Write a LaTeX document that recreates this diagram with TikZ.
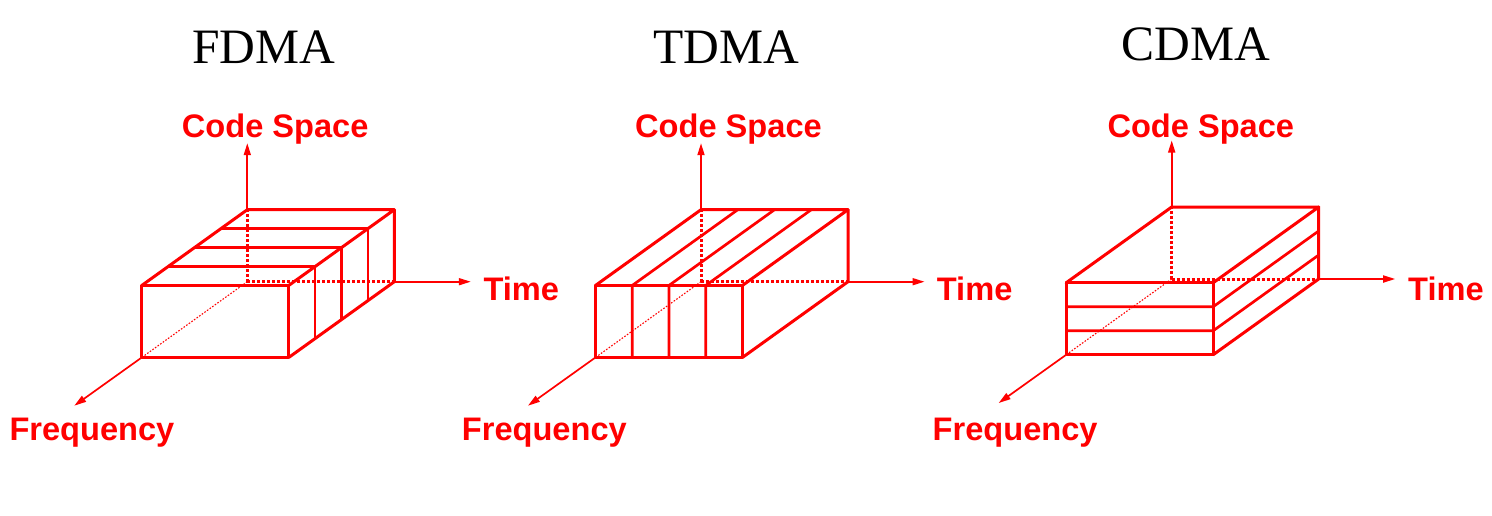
\documentclass[tikz,border=0pt]{standalone}
\usepackage{fontspec}
\setmainfont{Liberation Serif}
\newfontfamily\labfont{Liberation Sans}
\usetikzlibrary{arrows.meta,calc}
\definecolor{rd}{RGB}{255,0,0}
\tikzset{
  edge/.style={draw=rd, line width=3pt, line join=round, line cap=round},
  divline/.style={draw=rd, line width=2.7pt},
  axis/.style={draw=rd, line width=1.7pt, -{Triangle[length=12pt,width=7pt]}},
  hidden/.style={draw=rd, line width=3pt, dash pattern=on 3pt off 2pt},
  hiddenthin/.style={draw=rd, line width=1.1pt, dash pattern=on 1.6pt off 1.6pt},
  title/.style={font=\fontsize{49.5}{55}\selectfont, text=black, inner sep=0pt, anchor=base},
  lab/.style={font=\labfont\bfseries\fontsize{32.6}{36}\selectfont, text=rd, inner sep=0pt, anchor=base west},
}
\newcommand\mkbox[3]{%
  \coordinate (#1O) at (#2,#3);
  \coordinate (#1Ob) at ($(#1O)+(147,0)$);
  \coordinate (#1Ot) at ($(#1O)+(0,-72)$);
  \coordinate (#1Obt) at ($(#1O)+(147,-72)$);
  \coordinate (#1F) at ($(#1O)+(-105.6,75.8)$);
  \coordinate (#1Fb) at ($(#1F)+(147,0)$);
  \coordinate (#1Ft) at ($(#1F)+(0,-72)$);
  \coordinate (#1Fbt) at ($(#1F)+(147,-72)$);
  \coordinate (#1code) at ($(#1O)+(0,-138.5)$);
  \coordinate (#1time) at ($(#1O)+(223.5,0)$);
  \coordinate (#1freq) at ($(#1O)+(-173,124)$);
  \draw[hidden] (#1O) -- (#1Ot);
  \draw[hidden] (#1O) -- (#1Ob);
  \draw[hiddenthin] (#1O) -- (#1F);
  \draw[axis] (#1Ot) -- (#1code);
  \draw[axis] (#1Ob) -- (#1time);
  \draw[axis] (#1F) -- (#1freq);
  \draw[edge] (#1F) -- (#1Fb) -- (#1Fbt) -- (#1Ft) -- cycle;
  \draw[edge] (#1Ft) -- (#1Ot) -- (#1Obt) -- (#1Fbt);
  \draw[edge] (#1Obt) -- (#1Ob) -- (#1Fb);
}
\begin{document}
\begin{tikzpicture}[x=1pt, y=-1pt]
\useasboundingbox (0,0) rectangle (1492,515);

% titles
\node[title] (tf) at (263.8,63.3) {FDMA};
\node[title] (tt) at (726,63.3) {TDMA};
\node[title] (tc) at (1195.8,60.5) {CDMA};

% FDMA
\mkbox{f}{247.3}{281.7}
\foreach \t in {0.25,0.5,0.75}
  \draw[divline] ($(fOt)!\t!(fFt)$) -- ($(fObt)!\t!(fFbt)$) -- ($(fOb)!\t!(fFb)$);
\node[lab] (fcs) at (181.7,137.5) {Code Space};
\node[lab] (ftm) at (483.3,300) {Time};
\node[lab] (ffr) at (9.3,440.5) {Frequency};

% TDMA
\mkbox{t}{701}{281.7}
\foreach \s in {0.25,0.5,0.75}
  \draw[divline] ($(tF)!\s!(tFb)$) -- ($(tFt)!\s!(tFbt)$) -- ($(tOt)!\s!(tObt)$);
\node[lab] (tcs) at (635,137.5) {Code Space};
\node[lab] (ttm) at (936.7,300) {Time};
\node[lab] (tfr) at (461.7,440) {Frequency};

% CDMA
\mkbox{c}{1171.7}{279}
\foreach \h in {0.333,0.667}
  \draw[divline] ($(cF)!\h!(cFt)$) -- ($(cFb)!\h!(cFbt)$) -- ($(cOb)!\h!(cObt)$);
\node[lab] (ccs) at (1107.3,137.5) {Code Space};
\node[lab] (ctm) at (1408,300) {Time};
\node[lab] (cfr) at (932.5,440) {Frequency};
\end{tikzpicture}
\end{document}
